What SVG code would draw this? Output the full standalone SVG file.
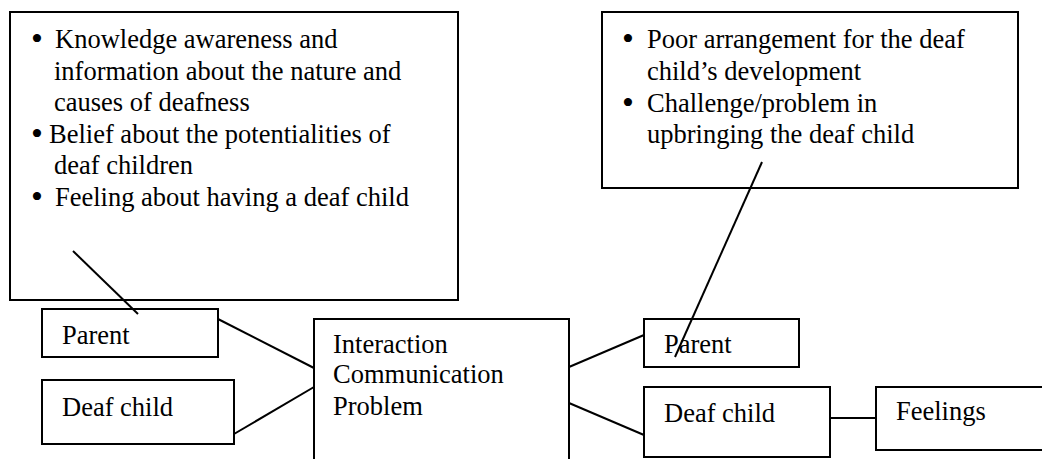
<svg xmlns="http://www.w3.org/2000/svg" width="1042" height="459" viewBox="0 0 1042 459">
<style>
.box{fill:#fff;stroke:#000;stroke-width:2}
.t{font-family:"Liberation Serif","Times New Roman",serif;font-size:26.5px;fill:#000}
.b{font-family:"Liberation Serif","Times New Roman",serif;font-size:34px;fill:#000}
.c{stroke:#000;stroke-width:2;fill:none}
</style>
<rect width="1042" height="459" fill="#fff"/>
<g id="left-note">
<rect class="box" x="10" y="12" width="448" height="288"/>
<text class="b" x="31" y="50">•</text>
<text class="t" x="55" y="48">Knowledge awareness and</text>
<text class="t" x="54" y="80">information about the nature and</text>
<text class="t" x="54" y="111">causes of deafness</text>
<text class="b" x="31" y="145">•</text>
<text class="t" x="49" y="143">Belief about the potentialities of</text>
<text class="t" x="54" y="174">deaf children</text>
<text class="b" x="31" y="208">•</text>
<text class="t" x="55" y="206">Feeling about having a deaf child</text>
</g>
<g id="right-note">
<rect class="box" x="602" y="12" width="416" height="176"/>
<text class="b" x="622" y="50">•</text>
<text class="t" x="647" y="48">Poor arrangement for the deaf</text>
<text class="t" x="647" y="80">child’s development</text>
<text class="b" x="622" y="114">•</text>
<text class="t" x="647" y="112">Challenge/problem in</text>
<text class="t" x="647" y="143">upbringing the deaf child</text>
</g>
<g id="parent-left">
<rect class="box" x="42" y="309" width="176" height="48"/>
<text class="t" x="62" y="344">Parent</text>
</g>
<g id="deafchild-left">
<rect class="box" x="42" y="380" width="192" height="64"/>
<text class="t" x="62" y="416">Deaf child</text>
</g>
<g id="center">
<rect class="box" x="314" y="319" width="255" height="150"/>
<text class="t" x="333" y="353">Interaction</text>
<text class="t" x="333" y="383">Communication</text>
<text class="t" x="333" y="415">Problem</text>
</g>
<g id="parent-right">
<rect class="box" x="644" y="319" width="155" height="48"/>
<text class="t" x="664" y="353">Parent</text>
</g>
<g id="deafchild-right">
<rect class="box" x="644" y="387" width="186" height="70"/>
<text class="t" x="664" y="422">Deaf child</text>
</g>
<g id="feelings">
<rect class="box" x="876" y="387" width="180" height="63"/>
<text class="t" x="896" y="420">Feelings</text>
</g>
<g id="connectors">
<line class="c" x1="73" y1="251" x2="138" y2="314"/>
<line class="c" x1="762" y1="162" x2="675" y2="357"/>
<line class="c" x1="218" y1="319" x2="314" y2="368"/>
<line class="c" x1="234" y1="434" x2="314" y2="387"/>
<line class="c" x1="569" y1="367" x2="644" y2="335"/>
<line class="c" x1="569" y1="403" x2="644" y2="435"/>
<line class="c" x1="830" y1="418" x2="876" y2="418"/>
</g>
</svg>
